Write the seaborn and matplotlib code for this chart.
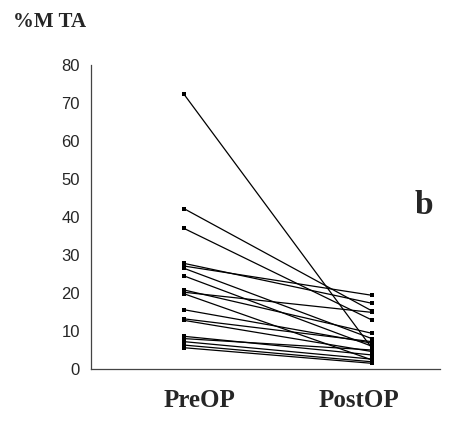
import numpy as np
import pandas as pd
import matplotlib
matplotlib.use("Agg")
import matplotlib.pyplot as plt
import seaborn as sns

# valores (%M TA por paciente)
timepoints = ["PreOP", "PostOP"]
pre_op = [72.3, 42.2, 37.0, 27.8, 27.1, 26.5, 24.5, 20.8, 20.2, 19.8,
          15.6, 13.2, 12.8, 8.6, 8.0, 7.2, 6.3, 5.6]
post_op = [5.5, 15.3, 12.9, 17.3, 19.4, 8.0, 6.0, 9.4, 14.9, 2.4,
           6.8, 7.2, 4.6, 3.7, 5.0, 2.6, 1.9, 1.5]
y_ticks = [0, 10, 20, 30, 40, 50, 60, 70, 80]

n = len(pre_op)
df = pd.DataFrame({
    "paciente": list(range(n)) * 2,
    "momento": [0] * n + [1] * n,
    "valor": pre_op + post_op,
})

sns.set_style("white")
narrow = ["Liberation Sans Narrow", "Liberation Sans", "DejaVu Sans"]
serif = ["Liberation Serif", "DejaVu Serif"]

fig = plt.figure(figsize=(4.56, 4.21), dpi=100)
ax = fig.add_axes([0.1996, 0.1235, 0.765, 0.7221])

sns.lineplot(data=df, x="momento", y="valor", units="paciente",
             estimator=None, color="black", linewidth=0.9,
             marker="s", markersize=3, markeredgewidth=0, ax=ax)

ax.set_xlim(-0.495, 1.362)
ax.set_ylim(0, 80)
ax.set_yticks(y_ticks)
ax.set_yticklabels([str(t) for t in y_ticks], family=narrow, fontsize=12)
ax.set_xticks([0.5])
ax.set_xticklabels([""])
ax.tick_params(axis="y", direction="out", length=5, width=0.8, pad=3)
ax.tick_params(axis="x", direction="out", length=3, width=0.8)
ax.set_xlabel("")
ax.set_ylabel("")
for s in ["top", "right"]:
    ax.spines[s].set_visible(False)
for s in ["left", "bottom"]:
    ax.spines[s].set_color("#444444")
    ax.spines[s].set_linewidth(0.9)

# etiquetas de categoria (desplazadas como en el original)
trans = ax.get_xaxis_transform()
for pos, lab in zip([0.085, 0.93], timepoints):
    ax.text(pos, -0.105, lab, transform=trans, ha="center", va="center",
            family=serif, fontweight="bold", fontsize=18)

fig.text(13 / 456, 1 - 22 / 421, "%M TA", family=serif, fontweight="bold",
         fontsize=15, ha="left", va="center")
fig.text(424 / 456, 1 - 205 / 421, "b", family=serif, fontweight="bold",
         fontsize=24, ha="center", va="center")

fig.savefig("out.png", dpi=100)
